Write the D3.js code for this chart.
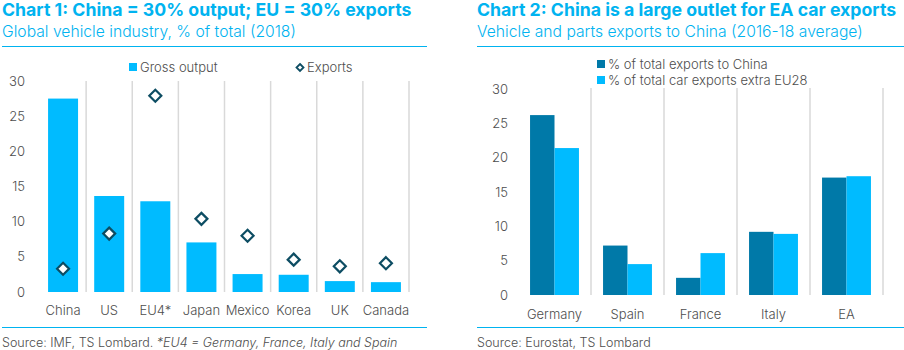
<!DOCTYPE html>
<html lang="en">
  <head>
    <meta charset="utf-8">
    <title>China car charts</title>
  </head>
  <style type="text/css">
    body { margin: 0; background: white; }
    text { font-family: Inter, "Noto Sans", sans-serif; }
    .title { font-size: 17.7px; font-weight: bold; fill: #00b3f0; }
    .subtitle { font-size: 15.7px; font-weight: 300; fill: #00b3f0; }
    .tick { font-size: 13px; font-weight: 300; fill: #4d4d4d; }
    .legend { font-size: 13px; font-weight: 300; fill: #4d4d4d; }
    .source { font-size: 12.5px; font-weight: 300; fill: #4d4d4d; }
  </style>
  <body>
    <div id="svg-area"></div>

    <script type="text/javascript" src="https://cdn.jsdelivr.net/npm/d3@7"></script>
    <script>
      const svg_width = 904;
      const svg_height = 350;
      const light_blue = '#00bbff';
      const dark_blue = '#0079a8';
      const grid_color = '#d9d9d9';

      // chart 1 data
      const countries = ['China','US','EU4*','Japan','Mexico','Korea','UK','Canada'];
      const gross_output = [27.5,13.65,12.9,7.05,2.55,2.45,1.55,1.4];
      const exports_share = [3.3,8.3,27.9,10.4,8.0,4.6,3.65,4.1];

      // chart 2 data
      const destinations = ['Germany','Spain','France','Italy','EA'];
      const to_china = [26.2,7.2,2.5,9.2,17.1];
      const extra_eu28 = [21.4,4.5,6.1,8.9,17.3];

      const y_ticks = [0,5,10,15,20,25,30];

      const svg = d3.select('#svg-area')
        .append('svg')
        .attr('width', svg_width)
        .attr('height', svg_height);

      //headers, rules and sources
      function frame(x0, x1, title, subtitle, source) {
        svg.append('text').attr('class','title').attr('x',x0).attr('y',16).text(title);
        svg.append('text').attr('class','subtitle').attr('x',x0).attr('y',37).text(subtitle);
        svg.append('line').attr('x1',x0).attr('x2',x1).attr('y1',46.5).attr('y2',46.5)
          .attr('stroke','#00b3f0').attr('stroke-width',1);
        svg.append('line').attr('x1',x0).attr('x2',x1).attr('y1',327.5).attr('y2',327.5)
          .attr('stroke','#00b3f0').attr('stroke-width',1);
        return svg.append('text').attr('class','source').attr('x',x0).attr('y',347).text(source);
      }

      const src1 = frame(2, 427, 'Chart 1: China = 30% output; EU = 30% exports',
        'Global vehicle industry, % of total (2018)', 'Source: IMF, TS Lombard. ');
      src1.append('tspan').attr('font-style','italic').text('*EU4 = Germany, France, Italy and Spain');
      frame(477, 904, 'Chart 2: China is a large outlet for EA car exports',
        'Vehicle and parts exports to China (2016-18 average)', 'Source: Eurostat, TS Lombard');

      //---------- chart 1 ----------
      const x1 = d3.scaleBand().domain(countries).range([40,409])
        .paddingInner(0.35).paddingOuter(0.175);
      const y1 = d3.scaleLinear().domain([0,30]).range([292,81]);
      const g1 = svg.append('g');

      g1.selectAll('line.grid')
        .data(countries)
        .enter()
        .append('line')
        .attr('class','grid')
        .attr('x1', d => x1(d) + x1.bandwidth() + x1.step()*x1.paddingInner()/2)
        .attr('x2', d => x1(d) + x1.bandwidth() + x1.step()*x1.paddingInner()/2)
        .attr('y1', y1(30)).attr('y2', y1(0))
        .attr('stroke', grid_color).attr('stroke-width', 1.5);

      g1.selectAll('text.ytick')
        .data(y_ticks)
        .enter()
        .append('text')
        .attr('class','tick')
        .attr('x', 25).attr('y', d => y1(d) + 4.5)
        .attr('text-anchor','end')
        .text(d => d);

      g1.selectAll('rect.bar')
        .data(gross_output)
        .enter()
        .append('rect')
        .attr('x', (d,i) => x1(countries[i]))
        .attr('y', d => y1(d))
        .attr('width', x1.bandwidth())
        .attr('height', d => y1(0) - y1(d))
        .attr('fill', light_blue);

      g1.selectAll('path.diamond')
        .data(exports_share)
        .enter()
        .append('path')
        .attr('transform', (d,i) => `translate(${x1(countries[i]) + x1.bandwidth()/2},${y1(d)})`)
        .attr('d', 'M0,-6L6,0L0,6L-6,0Z')
        .attr('fill','white')
        .attr('stroke','#0d4d63')
        .attr('stroke-width',2.2);

      g1.selectAll('text.xtick')
        .data(countries)
        .enter()
        .append('text')
        .attr('class','tick')
        .attr('x', d => x1(d) + x1.bandwidth()/2)
        .attr('y', 315)
        .attr('text-anchor','middle')
        .text(d => d);

      //legend
      g1.append('rect').attr('x',129).attr('y',63).attr('width',8).attr('height',8).attr('fill',light_blue);
      g1.append('text').attr('class','legend').attr('x',140).attr('y',72).text('Gross output');
      g1.append('path').attr('transform','translate(300,67.5)').attr('d','M0,-3.5L3.5,0L0,3.5L-3.5,0Z')
        .attr('fill','white').attr('stroke','#0d4d63').attr('stroke-width',1.8);
      g1.append('text').attr('class','legend').attr('x',307).attr('y',72).text('Exports');

      //---------- chart 2 ----------
      const x2 = d3.scaleBand().domain(destinations).range([518,883])
        .paddingInner(0.33).paddingOuter(0.165);
      const xs = d3.scaleBand().domain(['china','extra']).range([0, x2.bandwidth()]);
      const y2 = d3.scaleLinear().domain([0,30]).range([295,89]);
      const g2 = svg.append('g');

      g2.selectAll('line.grid')
        .data(destinations)
        .enter()
        .append('line')
        .attr('x1', d => x2(d) + x2.bandwidth() + x2.step()*x2.paddingInner()/2)
        .attr('x2', d => x2(d) + x2.bandwidth() + x2.step()*x2.paddingInner()/2)
        .attr('y1', y2(30) - 1).attr('y2', y2(0))
        .attr('stroke', grid_color).attr('stroke-width', 1.5);

      g2.selectAll('text.ytick')
        .data(y_ticks)
        .enter()
        .append('text')
        .attr('class','tick')
        .attr('x', 508).attr('y', d => y2(d) + 4.5)
        .attr('text-anchor','end')
        .text(d => d);

      const series = [
        {key:'china', values: to_china, color: dark_blue},
        {key:'extra', values: extra_eu28, color: light_blue}
      ];
      series.forEach(s => {
        g2.selectAll('rect.' + s.key)
          .data(s.values)
          .enter()
          .append('rect')
          .attr('class', s.key)
          .attr('x', (d,i) => x2(destinations[i]) + xs(s.key))
          .attr('y', d => y2(d))
          .attr('width', xs.bandwidth())
          .attr('height', d => y2(0) - y2(d))
          .attr('fill', s.color);
      });

      g2.selectAll('text.xtick')
        .data(destinations)
        .enter()
        .append('text')
        .attr('class','tick')
        .attr('x', d => x2(d) + x2.bandwidth()/2)
        .attr('y', 319)
        .attr('text-anchor','middle')
        .text(d => d);

      //legend
      g2.append('rect').attr('x',597).attr('y',60).attr('width',8).attr('height',8).attr('fill',dark_blue);
      g2.append('text').attr('class','legend').attr('x',608).attr('y',69).text('% of total exports to China');
      g2.append('rect').attr('x',597).attr('y',76).attr('width',8).attr('height',8).attr('fill',light_blue);
      g2.append('text').attr('class','legend').attr('x',608).attr('y',85).text('% of total car exports extra EU28');
    </script>
  </body>
</html>
